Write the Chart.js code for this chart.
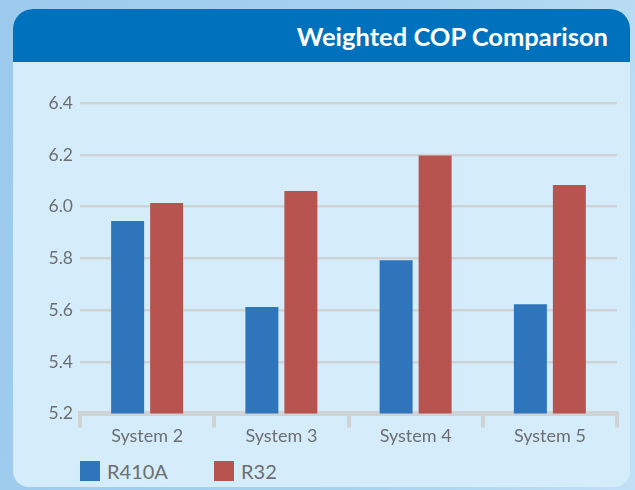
<!DOCTYPE html>
<html>
<head>
<meta charset="utf-8">
<script src="https://cdn.jsdelivr.net/npm/chart.js@4.4.0/dist/chart.umd.min.js"></script>
<style>
    html, body { margin: 0; padding: 0; }
    body {
        width: 635px; height: 490px; position: relative; overflow: hidden;
        background: linear-gradient(100deg, #9ccaec 0%, #a6d2ef 60%, #c0e0f5 100%);
        font-family: Lato, "DejaVu Sans", sans-serif;
    }
    #panel {
        position: absolute; left: 13px; top: 9px; width: 617px; height: 478px;
        background: #d5edfa; border-radius: 20px 20px 16px 16px; overflow: hidden;
    }
    #header {
        position: absolute; left: 0; top: 0; width: 100%; height: 53px;
        background: #0071bc; color: #fff; font-weight: bold; font-size: 25.5px;
        text-align: right; box-sizing: border-box; padding-right: 22px; line-height: 55px;
    }
    #chartBox { position: absolute; left: 0; top: 62px; width: 635px; height: 390px; }
    .legend { position: absolute; top: 461px; height: 20px; color: #6d6e71; font-size: 20px; line-height: 20px; }
    .legend span { display: inline-block; width: 20px; height: 20px; vertical-align: top; margin-right: 7px; }
</style>
</head>
<body>
<div id="panel"><div id="header">Weighted COP Comparison</div></div>
<div id="chartBox"><canvas id="copChart" width="635" height="390"></canvas></div>
<div class="legend" style="left:80px"><span style="background:#2e75bb"></span>R410A</div>
<div class="legend" style="left:214px"><span style="background:#b85450"></span>R32</div>
<script>
const systems = ['System 2', 'System 3', 'System 4', 'System 5'];
const r410a = [5.945, 5.612, 5.793, 5.623];
const r32 = [6.014, 6.061, 6.198, 6.084];
const yTicks = [5.2, 5.4, 5.6, 5.8, 6.0, 6.2, 6.4];

const gridGray = '#cfd3d6';
const textGray = '#6d6e71';

const ctx = document.getElementById('copChart').getContext('2d');
new Chart(ctx, {
    type: 'bar',
    data: {
        labels: systems,
        datasets: [{
            label: 'R410A',
            data: r410a,
            backgroundColor: '#2e75bb'
        }, {
            label: 'R32',
            data: r32,
            backgroundColor: '#b85450'
        }]
    },
    options: {
        responsive: false,
        animation: false,
        categoryPercentage: 0.581,
        barPercentage: 0.846,
        layout: { padding: { top: 41.3, right: 18, bottom: 0, left: 0 } },
        plugins: {
            legend: { display: false },
            tooltip: { enabled: false }
        },
        scales: {
            x: {
                afterFit: scale => { scale.height = 38.4; },
                grid: {
                    offset: true,
                    drawOnChartArea: false,
                    drawTicks: true,
                    tickLength: 14,
                    lineWidth: 4,
                    color: gridGray
                },
                border: { display: true, width: 5, color: gridGray },
                ticks: {
                    color: textGray,
                    padding: -2,
                    font: { family: 'Lato', size: 18 }
                }
            },
            y: {
                min: 5.2,
                max: 6.4,
                afterFit: scale => { scale.width = 80; },
                afterBuildTicks: scale => { scale.ticks = yTicks.map(v => ({ value: v })); },
                grid: { drawTicks: false, lineWidth: 2.5, color: gridGray },
                border: { display: false },
                ticks: {
                    color: textGray,
                    padding: 7,
                    font: { family: 'Lato', size: 17.5 },
                    callback: v => Number(v).toFixed(1)
                }
            }
        }
    }
});
</script>
</body>
</html>
